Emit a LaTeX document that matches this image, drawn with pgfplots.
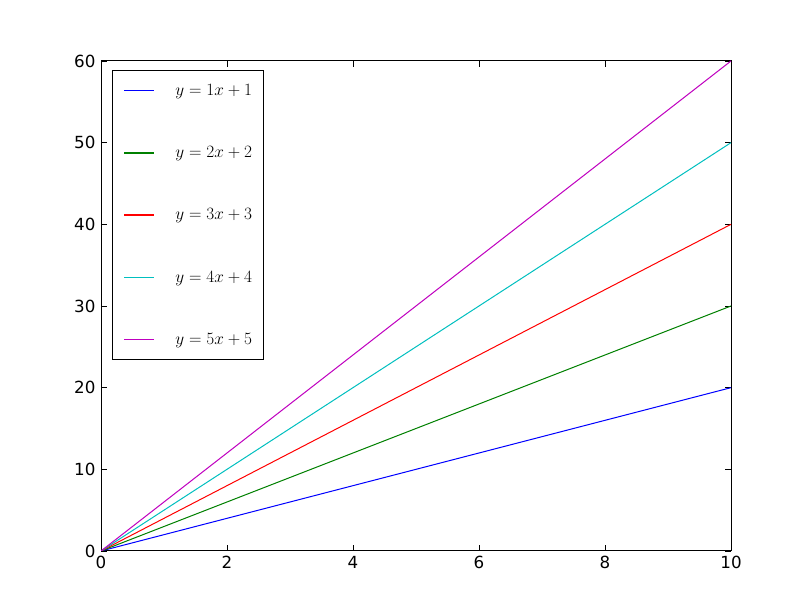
\documentclass[border=0pt]{standalone}
\usepackage{pgfplots}
\pgfplotsset{compat=1.18}
\usepackage{fontspec}
\setmainfont{DejaVu Sans}
\definecolor{mplgreen}{rgb}{0,0.5,0}
\definecolor{mplred}{rgb}{1,0,0}
\definecolor{mplblue}{rgb}{0,0,1}
\definecolor{mplcyan}{rgb}{0,0.75,0.75}
\definecolor{mplmag}{rgb}{0.75,0,0.75}
\newcommand{\lf}{\fontsize{16.7}{20}\selectfont}
\newcommand{\legent}[1]{\hspace{21pt}$#1$}
\begin{document}
\begin{tikzpicture}[x=1pt,y=1pt]
\path[use as bounding box] (0,0) rectangle (812,612);
\begin{axis}[
  at={(101pt,61pt)}, anchor=south west,
  scale only axis, width=630pt, height=490pt,
  xmin=0, xmax=10, ymin=0, ymax=60,
  xtick={0,2,4,6,8,10}, ytick={0,10,20,30,40,50,60},
  tick align=inside, major tick length=6pt,
  tick style={black, line width=0.8pt},
  axis line style={line width=1pt},
  ticklabel style={font=\lf},
  /pgf/number format/assume math mode=true,
  xticklabel style={yshift=-2pt},
  yticklabel style={xshift=-2pt},
  legend cell align=left,
  legend style={at={(0.01746,0.98163)}, anchor=north west,
    draw=black, line width=1pt, font=\lf,
    inner xsep=12pt, inner ysep=12pt, row sep=45.5pt,
    nodes={inner xsep=0pt, inner ysep=2pt, font=\lf}},
  legend image code/.code={%
    \fill[#1, draw=none] (0pt,-0.65pt) rectangle (30pt,0.65pt);},
]
\addplot[color=mplblue, line width=1pt] coordinates {(0,0) (10,20)};
\addlegendentry{\legent{y=1x+1}}
\addplot[color=mplgreen, line width=1pt] coordinates {(0,0) (10,30)};
\addlegendentry{\legent{y=2x+2}}
\addplot[color=mplred, line width=1pt] coordinates {(0,0) (10,40)};
\addlegendentry{\legent{y=3x+3}}
\addplot[color=mplcyan, line width=1pt] coordinates {(0,0) (10,50)};
\addlegendentry{\legent{y=4x+4}}
\addplot[color=mplmag, line width=1pt] coordinates {(0,0) (10,60)};
\addlegendentry{\legent{y=5x+5}}
\end{axis}
\end{tikzpicture}
\end{document}
